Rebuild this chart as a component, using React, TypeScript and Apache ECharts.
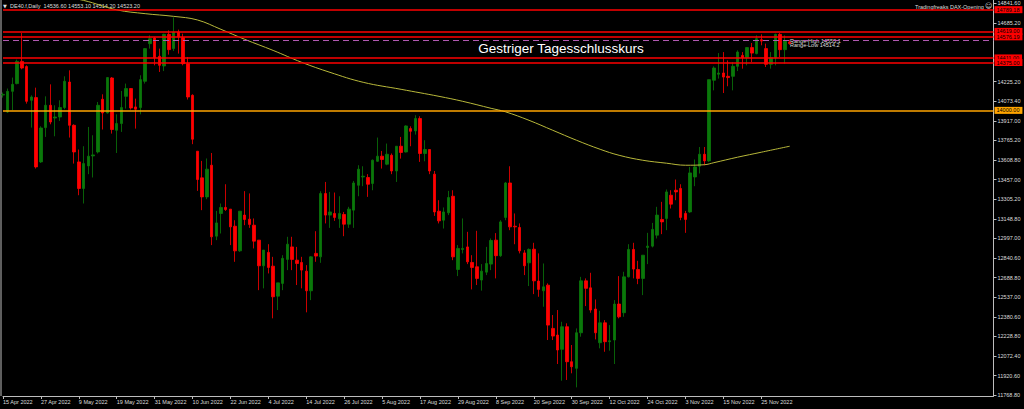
import React, { useEffect, useRef } from "react";
import * as echarts from "echarts";

// ---- Data ----
const tickLabels = [
  "15 Apr 2022", "27 Apr 2022", "9 May 2022", "19 May 2022", "31 May 2022", "10 Jun 2022",
  "22 Jun 2022", "4 Jul 2022", "14 Jul 2022", "26 Jul 2022", "5 Aug 2022", "17 Aug 2022",
  "29 Aug 2022", "8 Sep 2022", "20 Sep 2022", "30 Sep 2022", "12 Oct 2022", "24 Oct 2022",
  "3 Nov 2022", "15 Nov 2022", "25 Nov 2022",
];

const yTicks = [
  14841.6, 14685.2, 14225.2, 14073.4, 13917.0, 13765.2, 13608.8, 13457.0, 13305.2, 13148.8,
  12997.0, 12840.6, 12688.8, 12537.0, 12380.6, 12228.8, 12072.4, 11920.6, 11768.8,
];

const opens = [
  14120, 13987, 14149, 14210, 14384, 14343, 14079, 14100, 13596, 13865,
  14040, 13940, 13948, 14022, 14222, 13883, 13596, 13388, 13565, 13643,
  13674, 14087, 13980, 14254, 13844, 13897, 14110, 14171, 14027, 14022,
  14228, 14523, 14567, 14424, 14348, 14596, 14484, 14614, 14570, 14366,
  14118, 13680, 13471, 13322, 13570, 13014, 13192, 13239, 13226, 13092,
  12899, 13179, 13147, 13100, 12983, 12782, 12887, 12779, 12544, 12644,
  12832, 12930, 12826, 12808, 12740, 12586, 12879, 12852, 13348, 13179,
  13192, 13150, 13184, 13108, 13218, 13413, 13478, 13474, 13427, 13601,
  13641, 13578, 13648, 13525, 13719, 13674, 13857, 13839, 13936, 13662,
  13693, 13500, 13210, 13139, 13197, 13327, 12753, 12910, 12930, 12808,
  12774, 12670, 12732, 12795, 12983, 12861, 13161, 13431, 13092, 13082,
  12883, 12805, 12912, 12662, 12586, 12630, 12291, 12239, 12127, 12304,
  12030, 11978, 12257, 12664, 12609, 12443, 12179, 12335, 12187, 12200,
  12482, 12414, 12695, 12910, 12753, 12683, 12926, 12936, 13022, 13145,
  13153, 13335, 13374, 13388, 13192, 13204, 13478, 13562, 13656, 13604,
  14236, 14283, 14293, 14267, 14267, 14345, 14431, 14413, 14492, 14445,
  14554, 14484, 14361, 14413, 14596, 14476, 14536.6,
];
const highs = [
  14140, 14171, 14257, 14398, 14606, 14353, 14118, 14178, 13875, 14110,
  14204, 14040, 14079, 14267, 14314, 13891, 13693, 13719, 13870, 13805,
  14066, 14126, 14261, 14261, 13969, 14152, 14210, 14175, 14092, 14275,
  14489, 14588, 14575, 14484, 14601, 14627, 14729, 14633, 14601, 14418,
  14126, 13680, 13604, 13623, 13666, 13212, 13270, 13421, 13226, 13139,
  13210, 13367, 13349, 13153, 12983, 12905, 12951, 12852, 12648, 12865,
  13009, 13009, 12930, 12852, 12787, 12858, 13053, 13366, 13439, 13361,
  13356, 13327, 13204, 13244, 13447, 13570, 13562, 13500, 13615, 13787,
  13682, 13740, 13662, 13719, 13792, 13883, 13875, 13962, 13954, 13766,
  13693, 13525, 13296, 13239, 13369, 13374, 12944, 13153, 13048, 12865,
  13056, 12795, 12930, 12996, 13038, 13139, 13439, 13562, 13192, 13114,
  12905, 12918, 12962, 12879, 12800, 12644, 12396, 12435, 12343, 12331,
  12161, 12291, 12695, 12683, 12727, 12518, 12429, 12356, 12317, 12513,
  12701, 12735, 12951, 12962, 12821, 12865, 13040, 13118, 13244, 13283,
  13380, 13374, 13458, 13421, 13212, 13557, 13615, 13713, 13713, 14241,
  14345, 14449, 14457, 14392, 14379, 14470, 14457, 14496, 14528, 14588,
  14596, 14523, 14457, 14601, 14606, 14588, 14553.1,
];
const lows = [
  14100, 13980, 14001, 14204, 14322, 14053, 13865, 13544, 13588, 13792,
  13891, 13797, 13917, 14009, 13787, 13583, 13335, 13270, 13500, 13474,
  13662, 13850, 13975, 13818, 13666, 13831, 14014, 14006, 13857, 13969,
  14210, 14484, 14353, 14301, 14308, 14437, 14465, 14445, 14353, 14085,
  13735, 13369, 13218, 13304, 12944, 12983, 13035, 13212, 12944, 12813,
  12891, 13100, 13079, 12918, 12591, 12605, 12722, 12370, 12435, 12591,
  12748, 12748, 12631, 12605, 12417, 12513, 12813, 12805, 13114, 13079,
  13134, 13079, 13014, 13079, 13079, 13327, 13406, 13322, 13374, 13596,
  13544, 13570, 13500, 13439, 13622, 13670, 13719, 13810, 13596, 13601,
  13500, 13173, 13114, 13074, 13179, 12826, 12701, 12879, 12795, 12597,
  12631, 12587, 12709, 12748, 12683, 12852, 13139, 13061, 12951, 12879,
  12709, 12623, 12560, 12539, 12461, 12200, 12200, 12012, 11881, 11887,
  11939, 11829, 12226, 12466, 12414, 12205, 12135, 12108, 12116, 12012,
  12370, 12382, 12691, 12683, 12638, 12552, 12795, 12926, 12996, 13030,
  13061, 13231, 13296, 13139, 13040, 13197, 13406, 13505, 13570, 13596,
  14157, 14249, 14136, 14189, 14157, 14308, 14327, 14353, 14379, 14439,
  14510, 14340, 14327, 14353, 14418, 14366, 14514.2,
];
const closes = [
  14125, 14149, 14204, 14384, 14332, 14071, 14105, 13557, 13862, 14040,
  13909, 13948, 14022, 14228, 13883, 13674, 13388, 13583, 13641, 13651,
  14040, 13980, 14257, 13850, 13897, 14022, 14171, 14019, 14009, 14241,
  14484, 14562, 14413, 14353, 14596, 14476, 14614, 14575, 14366, 14105,
  13774, 13458, 13322, 13539, 13009, 13118, 13239, 13223, 13087, 12899,
  13210, 13145, 13106, 12975, 12782, 12905, 12769, 12539, 12648, 12840,
  12951, 12832, 12800, 12748, 12586, 12852, 12858, 13348, 13179, 13204,
  13161, 13192, 13108, 13226, 13431, 13539, 13484, 13421, 13609, 13641,
  13615, 13656, 13525, 13719, 13670, 13878, 13836, 13936, 13662, 13693,
  13525, 13204, 13134, 13204, 13317, 12852, 12918, 12918, 12813, 12769,
  12683, 12740, 12800, 12980, 12861, 13126, 13431, 13087, 13087, 12899,
  12782, 12910, 12664, 12597, 12617, 12317, 12231, 12122, 12304, 12030,
  11991, 12257, 12664, 12605, 12435, 12257, 12335, 12187, 12194, 12482,
  12382, 12695, 12910, 12756, 12683, 12865, 12936, 13067, 13179, 13126,
  13361, 13265, 13361, 13161, 13145, 13510, 13557, 13656, 13604, 14241,
  14332, 14293, 14261, 14257, 14345, 14457, 14413, 14492, 14449, 14562,
  14543, 14361, 14413, 14596, 14476, 14543, 14523.2,
];

// Moving average read at selected bars (bar index -> value)
const maBars = [10, 17, 24, 30, 36, 41, 46, 51, 57, 63, 69, 76, 84, 92, 97, 103, 106, 111, 116, 121, 126, 130, 135, 140, 144, 148, 150, 155, 160, 166];
const maValues = [14909, 14862, 14788, 14758, 14737, 14709, 14635, 14557, 14470, 14377, 14298, 14220, 14165, 14110, 14071, 14016, 13989, 13922, 13844, 13766, 13695, 13648, 13609, 13586, 13570, 13574, 13590, 13633, 13672, 13719];

// Horizontal levels
const redLevels = [14789.18, 14619.0, 14576.19, 14411.0, 14375.0];
const orangeLevel = 14000.0;
const highLevel = 14553.1;
const bidLevel = 14523.2;

const TOTAL_SLOTS = 210;

export default function App() {
  const ref = useRef<HTMLDivElement>(null);

  useEffect(() => {
    document.body.style.margin = "0";
    const chart = echarts.init(ref.current!, null, { renderer: "svg" });
    const cats = Array.from({ length: TOTAL_SLOTS }, (_, i) => String(i));
    const candles = opens.map((o, i) => [o, closes[i], lows[i], highs[i]]);
    const ma: (number | null)[] = Array.from({ length: opens.length }, () => null);
    maBars.forEach((b, k) => (ma[b] = maValues[k]));

    const font = "Liberation Sans";
    const axisCol = "#bdbdbd";
    const txtCol = "#dedede";
    const tickInt = (i: number) => i % 8 === 0 && i / 8 < tickLabels.length;

    const lvlLabel = (bg: string, text: string, fg = "#000") => ({
      show: true,
      position: "end" as const,
      distance: 1,
      formatter: text,
      backgroundColor: bg,
      color: fg,
      fontSize: 5.5,
      fontFamily: font,
      padding: [1, 3, 0, 2],
    });

    const markData: any[] = redLevels.map((v) => ({
      yAxis: v,
      lineStyle: { color: "#ff0000", width: 1.6, type: "solid" },
      label: lvlLabel("#ff0000", v.toFixed(2)),
    }));
    markData.push({
      yAxis: orangeLevel,
      lineStyle: { color: "#ffa500", width: 1.6, type: "solid" },
      label: lvlLabel("#ffa500", orangeLevel.toFixed(2)),
    });
    markData.push({
      yAxis: highLevel,
      lineStyle: { color: "#b05ab0", width: 1, type: [6, 4] },
      label: { show: false },
    });
    markData.push({
      yAxis: bidLevel,
      lineStyle: { opacity: 0 },
      label: lvlLabel("#ffffff", bidLevel.toFixed(2)),
    });

    chart.setOption({
      animation: false,
      backgroundColor: "#000000",
      grid: { left: 1.3, right: 30.5, top: 0, bottom: 13, containLabel: false },
      xAxis: {
        type: "category",
        data: cats,
        boundaryGap: false,
        axisLine: { show: true, lineStyle: { color: axisCol, width: 1 } },
        axisTick: { show: true, interval: tickInt, length: 3, lineStyle: { color: axisCol } },
        axisLabel: {
          interval: tickInt,
          formatter: (_v: string, i: number) => tickLabels[i / 8] ?? "",
          align: "left",
          fontSize: 5.5,
          fontFamily: font,
          color: txtCol,
          margin: 3,
        },
        splitLine: { show: false },
      },
      yAxis: {
        type: "value",
        position: "right",
        min: 11761.3,
        max: 14862,
        axisLine: { show: true, lineStyle: { color: axisCol, width: 1 } },
        axisTick: { show: true, customValues: yTicks, length: 3, lineStyle: { color: axisCol } },
        axisLabel: {
          customValues: yTicks,
          formatter: (v: number) => v.toFixed(2),
          fontSize: 5.5,
          fontFamily: font,
          color: txtCol,
          margin: 4,
        },
        splitLine: { show: false },
      },
      series: [
        {
          type: "candlestick",
          data: candles,
          barWidth: 3,
          itemStyle: {
            color: "#0a780a",
            color0: "#ff0000",
            borderColor: "#0a780a",
            borderColor0: "#ff0000",
            borderWidth: 0.8,
          },
          markLine: {
            silent: true,
            symbol: ["none", "none"],
            animation: false,
            data: markData,
          },
          z: 3,
        },
        {
          type: "line",
          data: ma,
          connectNulls: true,
          showSymbol: false,
          smooth: 0.4,
          lineStyle: { color: "#b8b83a", width: 1 },
          z: 4,
        },
      ],
      graphic: [
        { type: "line", shape: { x1: 1, y1: 0, x2: 1, y2: 396 }, style: { stroke: axisCol, lineWidth: 1 } },
        { type: "text", left: 3, top: 3, style: { text: "▼", fontSize: 5, fill: txtCol, fontFamily: "DejaVu Sans" } },
        {
          type: "text", left: 10, top: 3,
          style: { text: "DE40.f,Daily  14536.60 14553.10 14514.20 14523.20", fontSize: 5.5, fill: txtCol, fontFamily: font },
        },
        {
          type: "text", left: 915, top: 4,
          style: { text: "Tradingfreaks DAX-Opening", fontSize: 5.5, fill: txtCol, fontFamily: font },
        },
        { type: "text", left: 985, top: 2.5, style: { text: "☺", fontSize: 7, fill: txtCol, fontFamily: "DejaVu Sans" } },
        {
          type: "text", x: 561, y: 48,
          style: { text: "Gestriger Tagesschlusskurs", fontSize: 13.5, fill: "#ffffff", fontFamily: font, align: "center", verticalAlign: "middle" },
        },
        {
          type: "text", x: 790, y: 40.5,
          style: { text: "Range-High 14553.1", fontSize: 5.5, fill: txtCol, fontFamily: font, verticalAlign: "middle" },
        },
        {
          type: "text", x: 790, y: 45,
          style: { text: "Range-Low 14514.2", fontSize: 5.5, fill: txtCol, fontFamily: font, verticalAlign: "middle" },
        },
      ],
    });
    return () => chart.dispose();
  }, []);

  return (
    <div
      ref={ref}
      style={{ position: "fixed", left: 0, top: 0, width: 1024, height: 409, background: "#000" }}
    />
  );
}
